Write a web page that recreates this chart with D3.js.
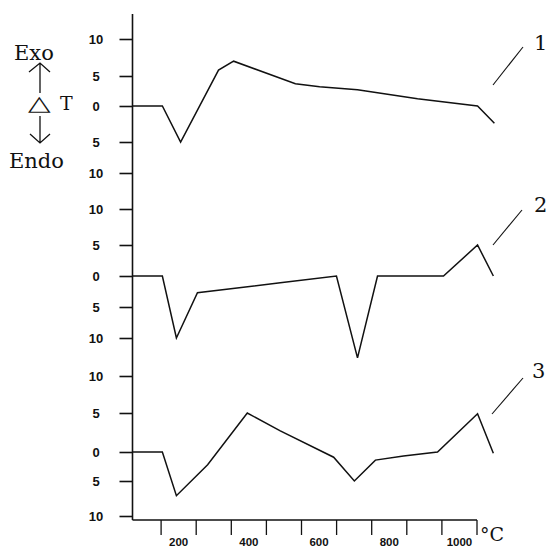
<!DOCTYPE html>
<html>
<head>
<meta charset="utf-8">
<script src="https://cdn.jsdelivr.net/npm/d3@7"></script>
<style>
  html, body { margin: 0; padding: 0; background: #fff; }
  svg { display: block; }
  .num { font-family: "Liberation Sans", Arial, sans-serif; font-weight: bold; font-size: 13px; fill: #111; }
  .serif { font-family: "DejaVu Serif", serif; fill: #111; }
</style>
</head>
<body>
<svg id="chart" width="547" height="548"></svg>
<script>
// DTA curves: temperature (°C) and ΔT (exo positive, endo negative)
const temps1 = [20, 105, 157, 265, 308, 484, 553, 661, 832, 1003, 1051];
const dT1    = [0, 0, -5, 5.8, 7.0, 3.7, 3.2, 2.7, 1.2, 0, -2.4];

const temps2 = [20, 105, 145, 205, 441, 601, 661, 718, 906, 1003, 1048];
const dT2    = [0, 0, -10, -2.7, -1.1, 0, -13.2, 0, 0, 5, 0];

const temps3 = [20, 105, 145, 234, 347, 441, 593, 652, 712, 792, 889, 1003, 1048];
const dT3    = [0, 0, -7.1, -2.2, 5, 2.7, -0.9, -5, -1.4, -0.7, 0, 4.9, -0.2];

const curveNames = ["1", "2", "3"];
const yTicks = [10, 5, 0, -5, -10];
const xTicks = [100, 200, 300, 400, 500, 600, 700, 800, 900, 1000];
const xLabelled = [200, 400, 600, 800, 1000];

// layout
const axisX = 132.5, axisTop = 14, axisBottom = 520;
const bandTicks = [
  [39, 76, 106, 142, 173],
  [209, 245, 276, 307, 338],
  [376, 413, 452, 481, 516]
];
const nameAt = [
  { x: 534, y: 50, lx1: 493, ly1: 85, lx2: 523, ly2: 47 },
  { x: 534, y: 212, lx1: 493, ly1: 245, lx2: 522, ly2: 210 },
  { x: 532, y: 378, lx1: 492, ly1: 414, lx2: 523, ly2: 378 }
];

const svg = d3.select("#chart");
const x = d3.scaleLinear().domain([0, 1000]).range([125.5, 476.5]);
const ys = bandTicks.map(r => d3.scaleLinear().domain(yTicks).range(r));

const series = [
  temps1.map((t, i) => [t, dT1[i]]),
  temps2.map((t, i) => [t, dT2[i]]),
  temps3.map((t, i) => [t, dT3[i]])
];

// y axes, one per curve band
ys.forEach(y => {
  const g = svg.append("g").attr("transform", `translate(${axisX},0)`)
    .call(d3.axisLeft(y).tickValues(yTicks).tickSize(13).tickFormat(d => Math.abs(d)));
  g.select(".domain").remove();
  g.selectAll(".tick line").attr("stroke", "#111").attr("stroke-width", 1.6);
  g.selectAll(".tick text").attr("class", "num").attr("text-anchor", "middle")
    .attr("x", -36.5).attr("dy", "0.36em");
  g.attr("font-size", null).attr("font-family", null);
});

// x axis
const gx = svg.append("g").attr("transform", `translate(0,${axisBottom})`)
  .call(d3.axisBottom(x).tickValues(xTicks).tickSize(15).tickPadding(3)
    .tickFormat(d => xLabelled.includes(d) ? d : ""));
gx.select(".domain").remove();
gx.selectAll(".tick line").attr("stroke", "#111").attr("stroke-width", 1.3);
gx.selectAll(".tick text").attr("class", "num").style("font-size", "11.5px")
  .attr("x", (x(100) - x(0)) / -2);
gx.attr("font-size", null).attr("font-family", null);

// main axis frame
svg.append("line").attr("x1", axisX).attr("x2", axisX).attr("y1", axisTop).attr("y2", axisBottom)
  .attr("stroke", "#111").attr("stroke-width", 1.6);
svg.append("line").attr("x1", axisX).attr("x2", x(1000) + 0.5).attr("y1", axisBottom).attr("y2", axisBottom)
  .attr("stroke", "#111").attr("stroke-width", 1.6);

// curves
series.forEach((s, i) => {
  const line = d3.line().x(d => x(d[0])).y(d => ys[i](d[1]));
  svg.append("path").attr("d", line(s)).attr("fill", "none")
    .attr("stroke", "#111").attr("stroke-width", 1.5).attr("stroke-linejoin", "miter");
});

// curve numbers with leaders
curveNames.forEach((n, i) => {
  const a = nameAt[i];
  svg.append("line").attr("x1", a.lx1).attr("y1", a.ly1).attr("x2", a.lx2).attr("y2", a.ly2)
    .attr("stroke", "#111").attr("stroke-width", 1.1);
  svg.append("text").attr("class", "serif").attr("x", a.x).attr("y", a.y)
    .style("font-size", "21px").text(n);
});

// temperature unit
svg.append("text").attr("class", "serif").attr("x", 480).attr("y", 541)
  .style("font-size", "19px").text("°C");

// ΔT legend on the left
svg.append("text").attr("class", "serif").attr("x", 14).attr("y", 60)
  .style("font-size", "21px").text("Exo");
svg.append("text").attr("class", "serif").attr("x", 9).attr("y", 168)
  .style("font-size", "21px").text("Endo");
svg.append("text").attr("transform", "translate(28,110) scale(1.4,1)")
  .style("font-family", "DejaVu Sans").style("font-size", "21px").attr("fill", "#111").text("△");
svg.append("text").attr("class", "serif").attr("x", 60).attr("y", 110)
  .style("font-size", "19px").text("T");

const arrows = svg.append("g").attr("stroke", "#111").attr("stroke-width", 1.3).attr("fill", "none");
arrows.append("path").attr("d", "M40,93 V63 M29,72 L40,63 L50,72");
arrows.append("path").attr("d", "M40,116 V143 M30,134 L40,143 L50,134");
</script>
</body>
</html>
